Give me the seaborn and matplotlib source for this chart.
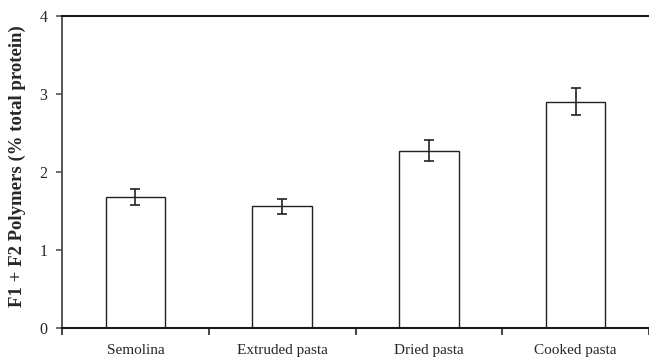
import matplotlib
matplotlib.use("Agg")
import matplotlib.pyplot as plt
import seaborn as sns
import numpy as np

categories = ["Semolina", "Extruded pasta", "Dried pasta", "Cooked pasta"]
polymer_pct = [1.68, 1.56, 2.27, 2.90]
polymer_err = [0.10, 0.095, 0.135, 0.175]
y_ticks = [0, 1, 2, 3, 4]

sns.set_theme(style="ticks")
plt.rcParams["font.family"] = ["Liberation Serif", "DejaVu Serif"]

fig = plt.figure(figsize=(6.49, 3.57), dpi=100)
ax = fig.add_axes([62 / 649, 29 / 357, 587 / 649, 312 / 357])

sns.barplot(x=categories, y=polymer_pct, ax=ax, color="white",
            edgecolor="#222222", linewidth=1.0, width=0.405, errorbar=None)
for p in ax.patches:
    p.set_facecolor("white")

ax.errorbar(np.arange(len(categories)), polymer_pct, yerr=polymer_err,
            fmt="none", ecolor="#222222", elinewidth=1.2, capsize=3.5,
            capthick=1.2)

ax.set_ylim(0, 4)
ax.set_xlim(-0.5, 3.466)
ax.set_yticks(y_ticks)
ax.set_yticklabels([str(t) for t in y_ticks], fontsize=11.5)

# category labels centred under bars, tick marks at category boundaries
ax.set_xticks(np.arange(len(categories)))
ax.set_xticklabels(categories, fontsize=11)
ax.tick_params(axis="x", length=0, pad=11.5)
ax.set_xticks(np.arange(len(categories) + 1) - 0.5, minor=True)
ax.tick_params(axis="x", which="minor", length=5, width=1.2, color="#222222",
               direction="out")
ax.tick_params(axis="y", length=4, width=1.2, color="#555555", pad=6.5)

ax.set_ylabel("F1 + F2 Polymers (% total protein)", fontsize=13.5,
              fontweight="bold")
ax.yaxis.set_label_coords(-0.062, 0.518)
ax.set_xlabel("")

ax.spines["right"].set_visible(False)
ax.spines["left"].set_linewidth(1.4)
ax.spines["left"].set_color("#555555")
for side in ["top", "bottom"]:
    ax.spines[side].set_linewidth(1.5)
    ax.spines[side].set_color("#1a1a1a")

fig.savefig("out.png", dpi=100)
